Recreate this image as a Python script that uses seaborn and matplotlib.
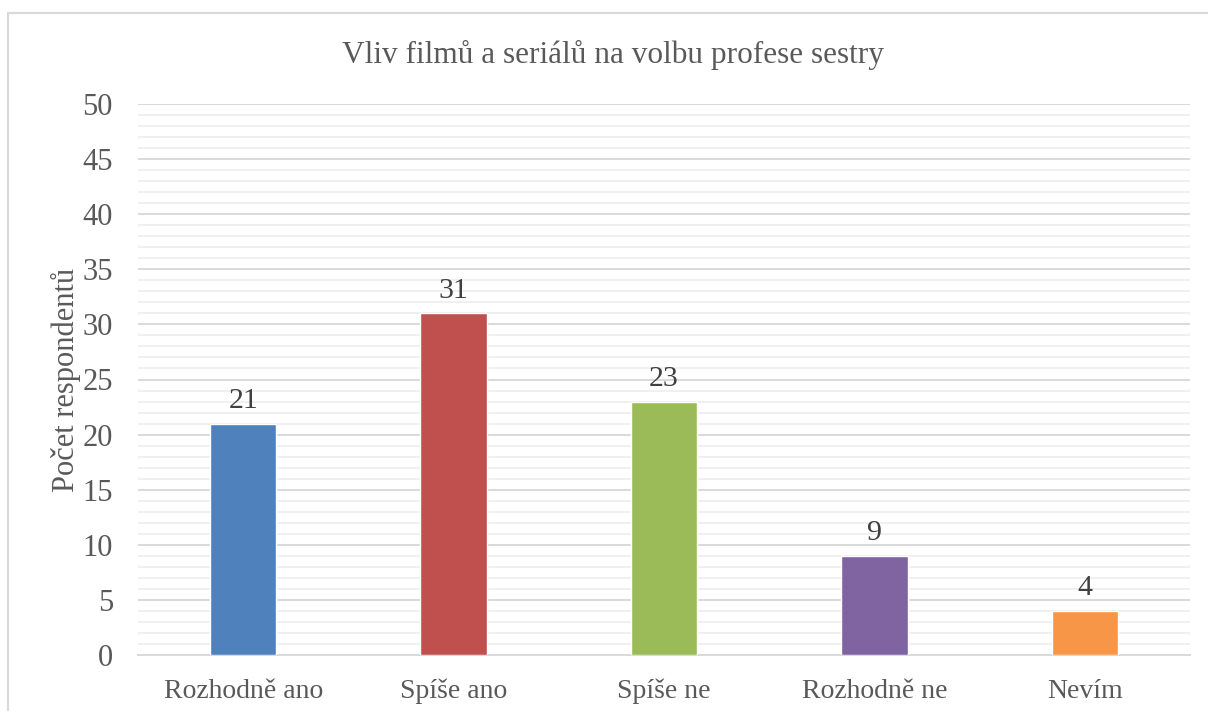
import matplotlib
matplotlib.use("Agg")
import matplotlib.pyplot as plt
import seaborn as sns
import pandas as pd
from matplotlib.patches import Rectangle
from matplotlib.ticker import MultipleLocator

categories = ["Rozhodně ano", "Spíše ano", "Spíše ne", "Rozhodně ne", "Nevím"]
values = [21, 31, 23, 9, 4]
colors = ["#4f81bd", "#c0504d", "#9bbb59", "#8064a2", "#f79646"]
title = "Vliv filmů a seriálů na volbu profese sestry"
ylabel = "Počet respondentů"

sns.set_theme(style="white")
plt.rcParams["font.family"] = ["Liberation Serif", "DejaVu Serif"]
txt = "#595959"

df = pd.DataFrame({"cat": categories, "val": values})
fig = plt.figure(figsize=(12.08, 7.11), dpi=100)
ax = fig.add_axes([138/1208, 1-655/711, (1190-138)/1208, (655-104)/711])

sns.barplot(data=df, x="cat", y="val", hue="cat", palette=colors, order=categories,
            hue_order=categories, width=0.315, legend=False, ax=ax, saturation=1, zorder=3)

ax.set_ylim(0, 50)
ax.set_xlim(-0.5, len(categories)-0.5)
ax.yaxis.set_major_locator(MultipleLocator(5))
ax.yaxis.set_minor_locator(MultipleLocator(1))
ax.grid(which="minor", axis="y", color="#f0f0f0", linewidth=1.4, zorder=0)
ax.grid(which="major", axis="y", color="#d9d9d9", linewidth=1.4, zorder=1)
ax.set_axisbelow(True)
for s in ["top", "right", "left"]:
    ax.spines[s].set_visible(False)
ax.spines["bottom"].set_color("#d9d9d9")
ax.spines["bottom"].set_linewidth(1.4)
ax.tick_params(axis="both", which="both", length=0, colors=txt)
ax.tick_params(axis="y", labelsize=22, pad=18)
ax.tick_params(axis="x", labelsize=20, pad=17)
ax.set_xlabel("")
ax.set_ylabel(ylabel, color=txt, fontsize=22, labelpad=1)

for i, v in enumerate(values):
    ax.annotate(str(v), (i, v), xytext=(0, 7), textcoords="offset points",
                ha="center", va="bottom", fontsize=21.5, color="#404040")

fig.text(613/1208, 1-55/711, title, ha="center", va="center", fontsize=22.5, color=txt)

fig.patches.append(Rectangle((8/1208, -0.1), 1.2, 1-13/711+0.1, transform=fig.transFigure,
                             fill=False, edgecolor="#d9d9d9", linewidth=1.5, figure=fig))

fig.savefig("out.png", dpi=100)
